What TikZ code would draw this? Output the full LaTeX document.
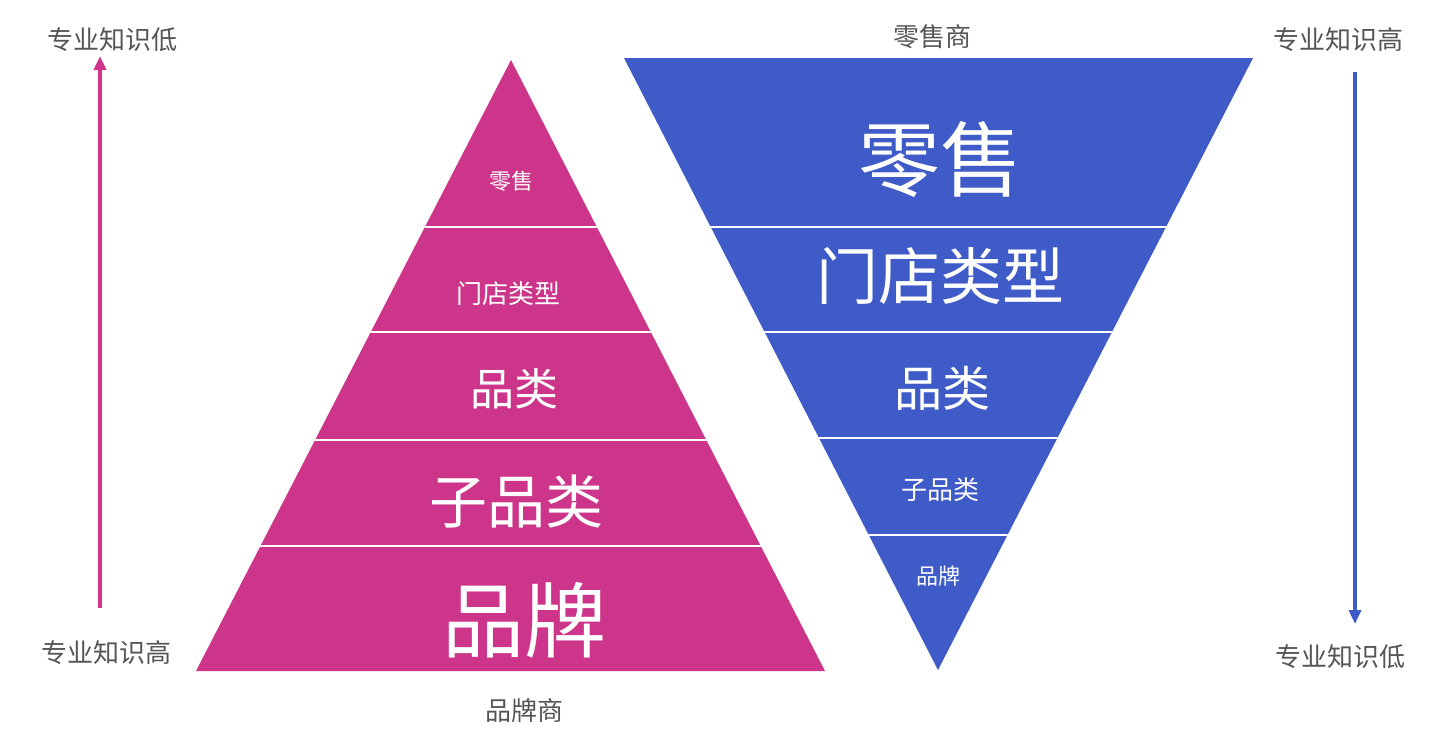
\documentclass[tikz,border=0pt]{standalone}
\usepackage{fontspec}
\setmainfont{Noto Sans CJK SC}
\usetikzlibrary{arrows.meta}
\definecolor{mag}{HTML}{CC358A}
\definecolor{blu}{HTML}{3F5BC8}
\definecolor{gtx}{HTML}{555555}
\tikzset{x=1pt,y=-1pt,
 lab/.style={text=gtx,font=\fontsize{26}{26}\selectfont,inner sep=0},
 inl/.style={text=white,inner sep=0},
 sep/.style={white,line width=1.8pt}}
\newcommand{\fs}[1]{\fontsize{#1}{#1}\selectfont}
\begin{document}
\begin{tikzpicture}
\useasboundingbox (0,0) rectangle (1442,750);
% left pyramid
\fill[mag] (511,60) -- (825,671) -- (196,671) -- cycle;
\begin{scope}
\clip (511,60) -- (825,671) -- (196,671) -- cycle;
\foreach \y in {227,332,440,546} \draw[sep] (100,\y) -- (900,\y);
\end{scope}
% right triangle
\fill[blu] (624,58) -- (1253,58) -- (938,670) -- cycle;
\begin{scope}
\clip (624,58) -- (1253,58) -- (938,670) -- cycle;
\foreach \y in {227,332,438,535} \draw[sep] (600,\y) -- (1300,\y);
\end{scope}
% inner labels
\node[inl,font=\fs{22}] (l1) at (511,181) {零售};
\node[inl,font=\fs{26}] (l2) at (508,294) {门店类型};
\node[inl,font=\fs{44}] (l3) at (514,389) {品类};
\node[inl,font=\fs{58}] (l4) at (516,501) {子品类};
\node[inl,font=\fs{82}] (l5) at (524,620) {品牌};
\node[inl,font=\fs{82}] (r1) at (940,160) {零售};
\node[inl,font=\fs{62}] (r2) at (940,276) {门店类型};
\node[inl,font=\fs{48}] (r3) at (942,388) {品类};
\node[inl,font=\fs{26}] (r4) at (940,490) {子品类};
\node[inl,font=\fs{22}] (r5) at (938,576) {品牌};
% outer labels
\node[lab] (tl) at (112,40) {专业知识低};
\node[lab] (bl) at (106,653) {专业知识高};
\node[lab] (tm) at (932,37) {零售商};
\node[lab] (tr) at (1338,40) {专业知识高};
\node[lab] (br) at (1340,657) {专业知识低};
\node[lab] (bm) at (524,711) {品牌商};
% arrows
\coordinate (a1) at (100,608); \coordinate (a2) at (100,56);
\draw[mag,line width=3.5pt,-{Triangle[length=14pt,width=12pt]}] (a1) -- (a2);
\coordinate (b1) at (1355,72); \coordinate (b2) at (1355,624);
\draw[blu,line width=3.5pt,-{Triangle[length=14pt,width=12pt]}] (b1) -- (b2);
\end{tikzpicture}
\end{document}
